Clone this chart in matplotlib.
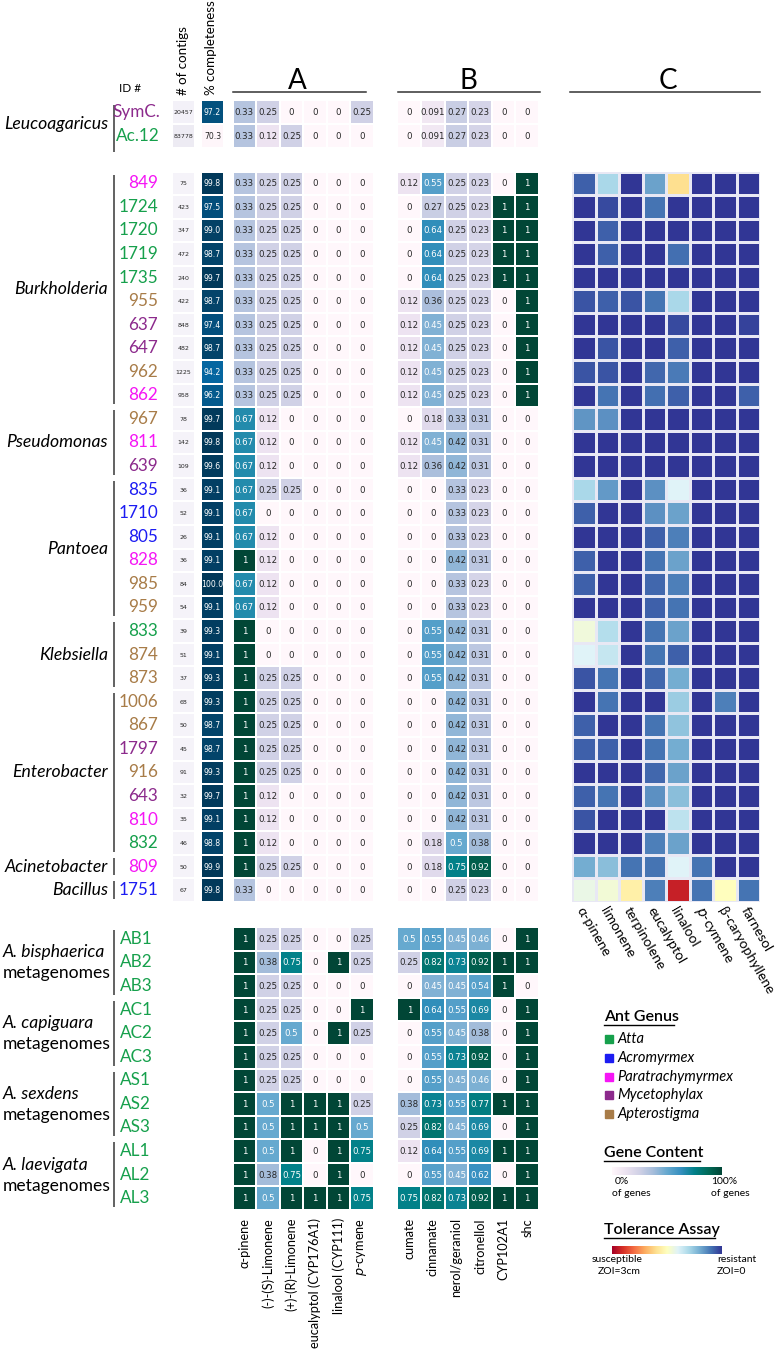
import numpy as np
import matplotlib
matplotlib.use('Agg')
import matplotlib.pyplot as plt
from matplotlib.colors import LinearSegmentedColormap, Normalize

# ---------------- data ----------------
top_ids = ['SymC.', 'Ac.12']
top_ant = ['Myc', 'Atta']
top_contigs = [20457, 83778]
top_complete = [97.2, 70.3]
top_A = [[0.33, 0.25, 0, 0, 0, 0.25],
         [0.33, 0.12, 0.25, 0, 0, 0]]
top_B = [[0, 0.091, 0.27, 0.23, 0, 0],
         [0, 0.091, 0.27, 0.23, 0, 0]]

bact_ids = ['849', '1724', '1720', '1719', '1735', '955', '637', '647', '962', '862',
            '967', '811', '639',
            '835', '1710', '805', '828', '985', '959',
            '833', '874', '873',
            '1006', '867', '1797', '916', '643', '810', '832',
            '809', '1751']
bact_ant = ['Para', 'Atta', 'Atta', 'Atta', 'Atta', 'Apt', 'Myc', 'Myc', 'Apt', 'Para',
            'Apt', 'Para', 'Myc',
            'Acro', 'Acro', 'Acro', 'Para', 'Apt', 'Apt',
            'Atta', 'Apt', 'Apt',
            'Apt', 'Apt', 'Myc', 'Apt', 'Myc', 'Para', 'Atta',
            'Para', 'Acro']
bact_groups = [('Burkholderia', 0, 10), ('Pseudomonas', 10, 3), ('Pantoea', 13, 6),
               ('Klebsiella', 19, 3), ('Enterobacter', 22, 7),
               ('Acinetobacter', 29, 1), ('Bacillus', 30, 1)]
bact_contigs = [75, 423, 347, 472, 240, 422, 848, 482, 1225, 958,
                78, 142, 109, 36, 52, 26, 36, 84, 54, 39, 51, 37,
                68, 50, 45, 91, 32, 35, 46, 50, 67]
bact_complete = [99.8, 97.5, 99.0, 98.7, 99.7, 98.7, 97.4, 98.7, 94.2, 96.2,
                 99.7, 99.8, 99.6, 99.1, 99.1, 99.1, 99.1, 100.0, 99.1,
                 99.3, 99.1, 99.3, 99.3, 98.7, 98.7, 99.3, 99.7, 99.1, 98.8,
                 99.9, 99.8]
bact_A = [[0.33, 0.25, 0.25, 0, 0, 0]] * 10 + [
    [0.67, 0.12, 0, 0, 0, 0], [0.67, 0.12, 0, 0, 0, 0], [0.67, 0.12, 0, 0, 0, 0],
    [0.67, 0.25, 0.25, 0, 0, 0], [0.67, 0, 0, 0, 0, 0], [0.67, 0.12, 0, 0, 0, 0],
    [1, 0.12, 0, 0, 0, 0], [0.67, 0.12, 0, 0, 0, 0], [0.67, 0.12, 0, 0, 0, 0],
    [1, 0, 0, 0, 0, 0], [1, 0, 0, 0, 0, 0], [1, 0.25, 0.25, 0, 0, 0],
    [1, 0.25, 0.25, 0, 0, 0], [1, 0.25, 0.25, 0, 0, 0], [1, 0.25, 0.25, 0, 0, 0],
    [1, 0.25, 0.25, 0, 0, 0], [1, 0.12, 0, 0, 0, 0], [1, 0.12, 0, 0, 0, 0],
    [1, 0.12, 0, 0, 0, 0], [1, 0.25, 0.25, 0, 0, 0], [0.33, 0, 0, 0, 0, 0]]
bact_B = [[0.12, 0.55, 0.25, 0.23, 0, 1], [0, 0.27, 0.25, 0.23, 1, 1],
          [0, 0.64, 0.25, 0.23, 1, 1], [0, 0.64, 0.25, 0.23, 1, 1],
          [0, 0.64, 0.25, 0.23, 1, 1], [0.12, 0.36, 0.25, 0.23, 0, 1],
          [0.12, 0.45, 0.25, 0.23, 0, 1], [0.12, 0.45, 0.25, 0.23, 0, 1],
          [0.12, 0.45, 0.25, 0.23, 0, 1], [0.12, 0.45, 0.25, 0.23, 0, 1],
          [0, 0.18, 0.33, 0.31, 0, 0], [0.12, 0.45, 0.42, 0.31, 0, 0],
          [0.12, 0.36, 0.42, 0.31, 0, 0], [0, 0, 0.33, 0.23, 0, 0],
          [0, 0, 0.33, 0.23, 0, 0], [0, 0, 0.33, 0.23, 0, 0],
          [0, 0, 0.42, 0.31, 0, 0], [0, 0, 0.33, 0.23, 0, 0],
          [0, 0, 0.33, 0.23, 0, 0], [0, 0.55, 0.42, 0.31, 0, 0],
          [0, 0.55, 0.42, 0.31, 0, 0], [0, 0.55, 0.42, 0.31, 0, 0],
          [0, 0, 0.42, 0.31, 0, 0], [0, 0, 0.42, 0.31, 0, 0],
          [0, 0, 0.42, 0.31, 0, 0], [0, 0, 0.42, 0.31, 0, 0],
          [0, 0, 0.42, 0.31, 0, 0], [0, 0, 0.42, 0.31, 0, 0],
          [0, 0.18, 0.5, 0.38, 0, 0], [0, 0.18, 0.75, 0.92, 0, 0],
          [0, 0, 0.25, 0.23, 0, 0]]
# tolerance assay: zone of inhibition (cm)
bact_C = [[0.2, 0.9, 0, 0.55, 1.8, 0, 0, 0],
          [0, 0.1, 0, 0.3, 0, 0, 0, 0],
          [0, 0.2, 0, 0, 0, 0, 0, 0],
          [0, 0.2, 0, 0, 0.27, 0, 0, 0],
          [0, 0, 0, 0, 0, 0, 0, 0],
          [0.15, 0.2, 0.15, 0.3, 0.9, 0, 0, 0],
          [0, 0, 0, 0, 0.1, 0, 0, 0.06],
          [0, 0.15, 0, 0, 0.2, 0, 0, 0],
          [0.15, 0.15, 0, 0.24, 0.33, 0, 0, 0],
          [0, 0.3, 0, 0.27, 0.2, 0, 0, 0.2],
          [0.48, 0.45, 0, 0, 0, 0, 0, 0],
          [0, 0, 0, 0, 0, 0, 0, 0],
          [0, 0, 0, 0, 0, 0, 0, 0],
          [0.9, 0.5, 0, 0.45, 1.2, 0, 0, 0],
          [0.2, 0, 0, 0.45, 0.55, 0, 0, 0],
          [0, 0, 0, 0.2, 0.36, 0, 0, 0],
          [0.2, 0, 0, 0.3, 0.55, 0, 0, 0],
          [0.2, 0, 0, 0.24, 0.36, 0, 0, 0],
          [0, 0, 0, 0.2, 0.3, 0, 0, 0],
          [1.35, 0.96, 0, 0.3, 0.55, 0, 0, 0],
          [1.2, 1.05, 0, 0.3, 0.2, 0, 0, 0],
          [0.15, 0.3, 0, 0.24, 0.6, 0, 0, 0],
          [0, 0.3, 0, 0, 0.81, 0, 0.36, 0],
          [0.2, 0, 0, 0.3, 0.75, 0, 0, 0],
          [0.2, 0.2, 0, 0.3, 0.6, 0, 0, 0],
          [0, 0, 0, 0.24, 0.55, 0, 0, 0],
          [0.2, 0.3, 0, 0.45, 0.72, 0, 0, 0],
          [0.15, 0, 0, 0, 1.0, 0, 0, 0],
          [0, 0, 0, 0.36, 0.55, 0, 0, 0],
          [0.6, 0.72, 0.3, 0.3, 1.2, 0.3, 0, 0],
          [1.3, 1.38, 1.65, 0.36, 2.8, 0.3, 1.5, 0.3]]

meta_ids = ['AB1', 'AB2', 'AB3', 'AC1', 'AC2', 'AC3', 'AS1', 'AS2', 'AS3', 'AL1', 'AL2', 'AL3']
meta_groups = [('A. bisphaerica', 0), ('A. capiguara', 3), ('A. sexdens', 6), ('A. laevigata', 9)]
meta_A = [[1, 0.25, 0.25, 0, 0, 0.25], [1, 0.38, 0.75, 0, 1, 0.25], [1, 0.25, 0.25, 0, 0, 0],
          [1, 0.25, 0.25, 0, 0, 1], [1, 0.25, 0.5, 0, 1, 0.25], [1, 0.25, 0.25, 0, 0, 0],
          [1, 0.25, 0.25, 0, 0, 0], [1, 0.5, 1, 1, 1, 0.25], [1, 0.5, 1, 1, 1, 0.5],
          [1, 0.5, 1, 0, 1, 0.75], [1, 0.38, 0.75, 0, 1, 0], [1, 0.5, 1, 1, 1, 0.75]]
meta_B = [[0.5, 0.55, 0.45, 0.46, 0, 1], [0.25, 0.82, 0.73, 0.92, 1, 1], [0, 0.45, 0.45, 0.54, 1, 0],
          [1, 0.64, 0.55, 0.69, 0, 1], [0, 0.55, 0.45, 0.38, 0, 1], [0, 0.55, 0.73, 0.92, 0, 1],
          [0, 0.55, 0.45, 0.46, 0, 1], [0.38, 0.73, 0.55, 0.77, 1, 1], [0.25, 0.82, 0.45, 0.69, 0, 1],
          [0.12, 0.64, 0.55, 0.69, 1, 1], [0, 0.55, 0.45, 0.62, 0, 1], [0.75, 0.82, 0.73, 0.92, 1, 1]]

A_labels = ['α-pinene', '(-)-(S)-Limonene', '(+)-(R)-Limonene', 'eucalyptol (CYP176A1)',
            'linalool (CYP111)', '$p$-cymene']
B_labels = ['cumate', 'cinnamate', 'nerol/geraniol', 'citronellol', 'CYP102A1', 'shc']
C_labels = ['α-pinene', 'limonene', 'terpinolene', 'eucalyptol', 'linalool', '$p$-cymene',
            'β-caryophyllene', 'farnesol']

ant_names = ['Atta', 'Acromyrmex', 'Paratrachymyrmex', 'Mycetophylax', 'Apterostigma']
ant_keys = ['Atta', 'Acro', 'Para', 'Myc', 'Apt']
ant_colors = {'Atta': '#16a04c', 'Acro': '#1c1cf2', 'Para': '#f516f5',
              'Myc': '#8c2a8c', 'Apt': '#a87c48'}

# ---------------- layout ----------------
W, H = 776, 1353
fig = plt.figure(figsize=(W / 100, H / 100), dpi=100)
LAB = ['Lato', 'DejaVu Sans']
ov = fig.add_axes([0, 0, 1, 1])
ov.set_xlim(0, W); ov.set_ylim(H, 0); ov.axis('off')


def px_ax(x0, y0, x1, y1):
    return fig.add_axes([x0 / W, 1 - y1 / H, (x1 - x0) / W, (y1 - y0) / H])


def lum(c):
    rgb = np.array(c[:3])
    rgb = np.where(rgb <= .03928, rgb / 12.92, ((rgb + .055) / 1.055) ** 2.4)
    return rgb.dot([.2126, .7152, .0722])


def heat(x0, y0, x1, y1, data, cmap, vmin, vmax, fmt=None, fs=6.2, lw=1.3, ec='white'):
    data = np.asarray(data, float)
    if data.ndim == 1:
        data = data[:, None]
    ax = px_ax(x0, y0, x1, y1)
    ax.pcolormesh(data, cmap=cmap, vmin=vmin, vmax=vmax, edgecolors=ec, linewidth=lw)
    ax.set_xlim(0, data.shape[1]); ax.set_ylim(data.shape[0], 0)
    ax.axis('off')
    if fmt is not None:
        norm = Normalize(vmin, vmax)
        for i in range(data.shape[0]):
            for j in range(data.shape[1]):
                v = data[i, j]
                c = cmap(norm(v))
                tc = '#262626' if lum(c) > .408 else 'white'
                ax.text(j + 0.5, i + 0.52, fmt(v), ha='center', va='center',
                        fontsize=fs, color=tc, family='DejaVu Sans')
    return ax


gfmt = lambda v: f'{v:g}'
cm_gene = plt.get_cmap('PuBuGn')
cm_comp = plt.get_cmap('PuBu')
cm_cont = LinearSegmentedColormap.from_list('cont', ['#f5f3f9', '#ebe9f2'])
cm_tol = plt.get_cmap('RdYlBu_r')

XC = (172, 195); XP = (201, 224); XA = (232.5, 374); XB = (397.5, 539); XCC = (572, 760)
TOP = (100, 148); BAC = (171.5, 902); MET = (927, 1210)

for (y0, y1), cont, comp, A, B in [(TOP, top_contigs, top_complete, top_A, top_B),
                                    (BAC, bact_contigs, bact_complete, bact_A, bact_B)]:
    heat(XC[0], y0, XC[1], y1, cont, cm_cont, 0, 100000, fmt=lambda v: f'{int(v)}', fs=4.5)
    heat(XP[0], y0, XP[1], y1, comp, cm_comp, 70, 100, fmt=lambda v: f'{v:.1f}', fs=5.6)
    heat(XA[0], y0, XA[1], y1, A, cm_gene, 0, 1, fmt=gfmt)
    heat(XB[0], y0, XB[1], y1, B, cm_gene, 0, 1, fmt=gfmt)
heat(XCC[0], BAC[0], XCC[1], BAC[1], bact_C, cm_tol, 0, 3, lw=1.0, ec='#e8e8f4')
heat(XA[0], MET[0], XA[1], MET[1], meta_A, cm_gene, 0, 1, fmt=gfmt)
heat(XB[0], MET[0], XB[1], MET[1], meta_B, cm_gene, 0, 1, fmt=gfmt)

# ---------------- row labels ----------------
def rows_y(span, n):
    h = (span[1] - span[0]) / n
    return [span[0] + h * (i + 0.5) for i in range(n)], h


def bracket(x, ya, yb):
    ov.plot([x, x], [ya, yb], color='#555555', lw=1.3, solid_capstyle='butt')


ys, h = rows_y(TOP, 2)
for y, s, a in zip(ys, top_ids, top_ant):
    ov.text(160, y, s, ha='right', va='center', fontsize=12.3, color=ant_colors[a], family=LAB)
bracket(114, TOP[0] + 5, TOP[1] + 4)
ov.text(108, np.mean(ys), 'Leucoagaricus', ha='right', va='center', fontsize=12.7,
        style='italic', family=LAB)

ys, h = rows_y(BAC, 31)
for y, s, a in zip(ys, bact_ids, bact_ant):
    ov.text(158, y, s, ha='right', va='center', fontsize=12.3, color=ant_colors[a], family=LAB)
for name, st, n in bact_groups:
    ya = BAC[0] + st * h + 3; yb = BAC[0] + (st + n) * h - 3
    bracket(114, ya, yb)
    ov.text(108, (ya + yb) / 2, name, ha='right', va='center', fontsize=12.7,
            style='italic', family=LAB)

ys, h = rows_y(MET, 12)
for y, s in zip(ys, meta_ids):
    ov.text(120, y, s, ha='left', va='center', fontsize=12.3, color=ant_colors['Atta'], family=LAB)
for name, st in meta_groups:
    ya = MET[0] + st * h + 3; yb = MET[0] + (st + 3) * h - 3
    bracket(114, ya, yb)
    yc = (ya + yb) / 2
    ov.text(3, yc - 10, name, ha='left', va='center', fontsize=12.6, style='italic', family=LAB)
    ov.text(3, yc + 11, 'metagenomes', ha='left', va='center', fontsize=12.6, family=LAB)

# ---------------- headers ----------------
ov.text(119, 88, 'ID #', ha='left', va='center', fontsize=8.5, family=LAB)
ov.text(183, 95, '# of contigs', rotation=90, ha='center', va='bottom', fontsize=9.6, family=LAB)
ov.text(211, 95, '% completeness', rotation=90, ha='center', va='bottom', fontsize=9.6, family=LAB)
for lab, (xa, xb), xc in [('A', (233, 366), 297), ('B', (398, 540), 468), ('C', (570, 760), 668)]:
    ov.plot([xa, xb], [92, 92], color='#333333', lw=1.1)
    ov.text(xc, 89, lab, ha='center', va='baseline', fontsize=20, family=LAB)

# ---------------- column labels ----------------
def col_x(span, n):
    w = (span[1] - span[0]) / n
    return [span[0] + w * (j + 0.5) for j in range(n)]


for x, s in zip(col_x(XA, 6), A_labels):
    ov.text(x, 1218, s, rotation=90, ha='center', va='top', fontsize=9.2, family=LAB)
for x, s in zip(col_x(XB, 6), B_labels):
    ov.text(x, 1218, s, rotation=90, ha='center', va='top', fontsize=9.2, family=LAB)
for x, s in zip(col_x(XCC, 8), C_labels):
    ov.text(x - 4, 908, s, rotation=-60, rotation_mode='anchor', ha='left', va='center',
            fontsize=10, family=LAB)

# ---------------- legends ----------------
def underlined(x, y, s, w):
    ov.text(x, y, s, ha='left', va='center', fontsize=11.5, family=LAB, weight='semibold')
    ov.plot([x, x + w], [y + 8, y + 8], color='black', lw=1.0)


LX = 604
underlined(LX, 1017, 'Ant Genus', 70)
for i, (nm, k) in enumerate(zip(ant_names, ant_keys)):
    y = 1039 + i * 18.8
    ov.add_patch(plt.Rectangle((LX + 1, y - 4), 8, 8, color=ant_colors[k]))
    ov.text(LX + 13, y, nm, ha='left', va='center', fontsize=10.5, style='italic', family=LAB)

underlined(LX, 1153, 'Gene Content', 96)
cax = px_ax(612, 1167, 722, 1175)
cax.imshow(np.linspace(0, 1, 256)[None, :], aspect='auto', cmap=cm_gene)
cax.set_xticks([]); cax.set_yticks([])
for sp in cax.spines.values():
    sp.set_visible(False)
ov.text(622, 1182, '0%', ha='center', va='center', fontsize=7.5, family=LAB)
ov.text(631, 1193, 'of genes', ha='center', va='center', fontsize=7.5, family=LAB)
ov.text(711, 1182, '100%', ha='left', va='center', fontsize=7.5, family=LAB)
ov.text(711, 1193, 'of genes', ha='left', va='center', fontsize=7.5, family=LAB)

underlined(LX, 1230, 'Tolerance Assay', 111)
tax = px_ax(612, 1246, 722, 1254)
tax.imshow(np.linspace(0, 1, 256)[None, :], aspect='auto', cmap=cm_tol.reversed())
tax.set_xticks([]); tax.set_yticks([])
for sp in tax.spines.values():
    sp.set_visible(False)
ov.text(643, 1259, 'susceptible', ha='right', va='center', fontsize=7.5, family=LAB)
ov.text(598, 1271, 'ZOI=3cm', ha='left', va='center', fontsize=7.5, family=LAB)
ov.text(717, 1259, 'resistant', ha='left', va='center', fontsize=7.5, family=LAB)
ov.text(717, 1271, 'ZOI=0', ha='left', va='center', fontsize=7.5, family=LAB)

fig.savefig('out.png', dpi=100, facecolor='white')
